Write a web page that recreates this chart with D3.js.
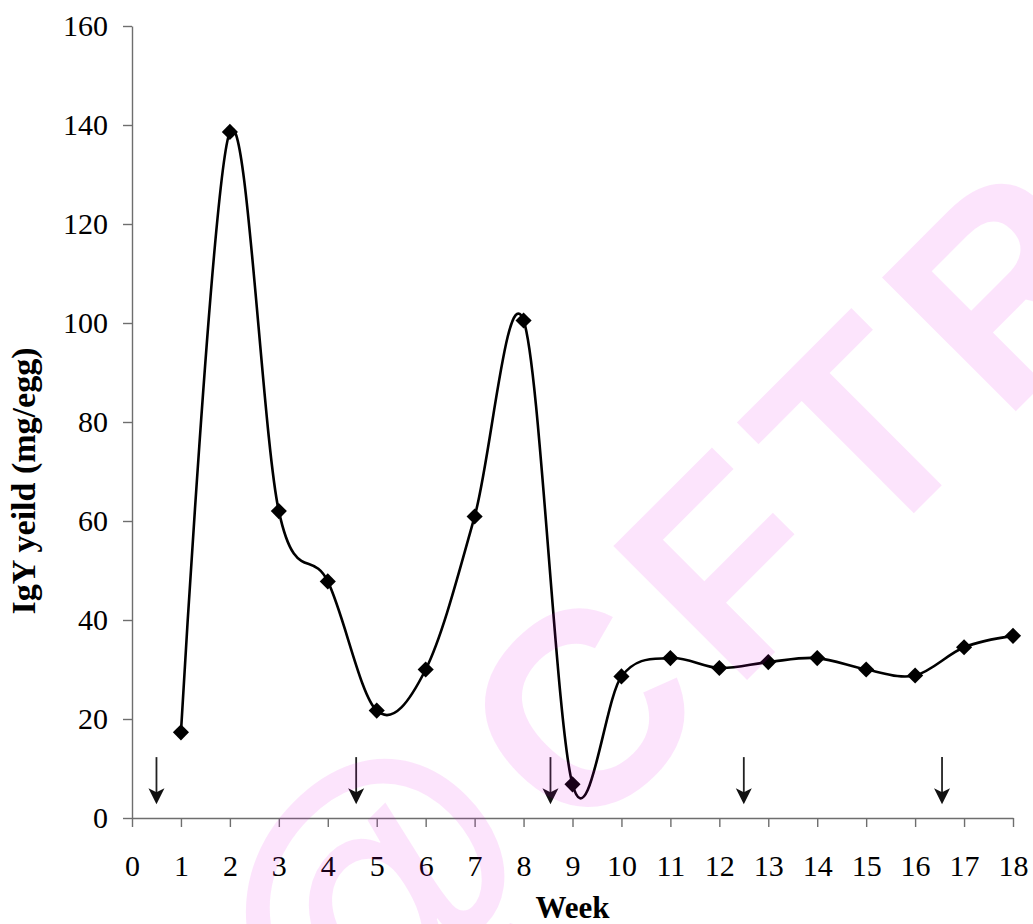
<!DOCTYPE html>
<html>
<head>
<meta charset="utf-8">
<script src="https://cdn.jsdelivr.net/npm/d3@7"></script>
<style>
  html, body { margin: 0; padding: 0; background: #fff; }
  svg { display: block; }
</style>
</head>
<body>
<svg id="chart" width="1033" height="924"></svg>
<script>
// IgY yield per egg over the immunisation period
const weeks = [1, 2, 3, 4, 5, 6, 7, 8, 9, 10, 11, 12, 13, 14, 15, 16, 17, 18];
const igyYield = [17.3, 138.6, 62.0, 47.8, 21.7, 30.0, 60.9, 100.5, 6.8, 28.6, 32.3, 30.3, 31.5, 32.3, 30.0, 28.8, 34.5, 36.8];

// Booster injection times (weeks), shown as arrows above the axis
const boosterWeeks = [0.5, 4.58, 8.55, 12.5, 16.55];
const arrowTop = 12.3;
const arrowTip = 2.8;

const xTicks = d3.range(0, 19);
const yTicks = [0, 20, 40, 60, 80, 100, 120, 140, 160];

const xTitle = "Week";
const yTitle = "IgY yeild (mg/egg)";
const watermarkSymbol = "@";
const watermarkText = "CFTRI";

const svg = d3.select("#chart");
const x = d3.scaleLinear().domain([0, 18]).range([132, 1013]);
const y = d3.scaleLinear().domain([0, 160]).range([818, 26]);

const serif = "'Liberation Serif', 'Times New Roman', serif";

// Axes
const yAxis = svg.append("g")
  .attr("transform", `translate(${x(0)},0)`)
  .call(d3.axisLeft(y).tickValues(yTicks).tickSize(9).tickPadding(15).tickSizeOuter(0));
const xAxis = svg.append("g")
  .attr("transform", `translate(0,${y(0)})`)
  .call(d3.axisBottom(x).tickValues(xTicks).tickSize(9).tickPadding(28).tickSizeOuter(0));

[yAxis, xAxis].forEach(g => {
  g.selectAll(".domain, line").attr("stroke", "#6e6e6e").attr("stroke-width", 1.4);
  g.selectAll("text").attr("fill", "#000").style("font-family", serif).style("font-size", "30px");
});

// Axis titles
svg.append("text")
  .attr("x", (x(0) + x(18)) / 2)
  .attr("y", 918)
  .attr("text-anchor", "middle")
  .style("font-family", serif).style("font-size", "31px").style("font-weight", "bold")
  .text(xTitle);

svg.append("text")
  .attr("transform", "translate(35,481) rotate(-90)")
  .attr("text-anchor", "middle")
  .style("font-family", serif).style("font-size", "34px").style("font-weight", "bold")
  .text(yTitle);

// Smoothed series line
const pts = weeks.map((w, i) => [w, igyYield[i]]);
svg.append("path")
  .datum(pts)
  .attr("fill", "none")
  .attr("stroke", "#000")
  .attr("stroke-width", 2.6)
  .attr("d", d3.line().x(d => x(d[0])).y(d => y(d[1])).curve(d3.curveCardinal.tension(0)));

// Diamond markers
const diamond = d3.symbol(d3.symbolSquare, 130);
svg.append("g").selectAll("path")
  .data(pts)
  .join("path")
  .attr("d", diamond)
  .attr("fill", "#000")
  .attr("transform", d => `translate(${x(d[0])},${y(d[1])}) rotate(45)`);

// Booster arrows
const arrows = svg.append("g").attr("fill", "#111").attr("stroke", "#222");
boosterWeeks.forEach(w => {
  const cx = x(w), ty = y(arrowTop), tip = y(arrowTip);
  arrows.append("line")
    .attr("x1", cx).attr("x2", cx)
    .attr("y1", ty).attr("y2", tip - 10)
    .attr("stroke-width", 1.8);
  arrows.append("path")
    .attr("stroke", "none")
    .attr("d", `M${cx},${tip} L${cx - 8},${tip - 16} L${cx},${tip - 12} L${cx + 8},${tip - 16} Z`);
});

// Semi-transparent watermark across the plot
const wm = svg.append("text")
  .attr("transform", "translate(335,1092) rotate(-45)")
  .style("font-family", "'Liberation Sans', Arial, sans-serif")
  .style("font-weight", "bold")
  .style("letter-spacing", "22px")
  .attr("fill", "#e000e0")
  .attr("fill-opacity", 0.105);
wm.append("tspan").style("font-size", "330px").text(watermarkSymbol);
wm.append("tspan").style("font-size", "275px").text(watermarkText);
</script>
</body>
</html>
